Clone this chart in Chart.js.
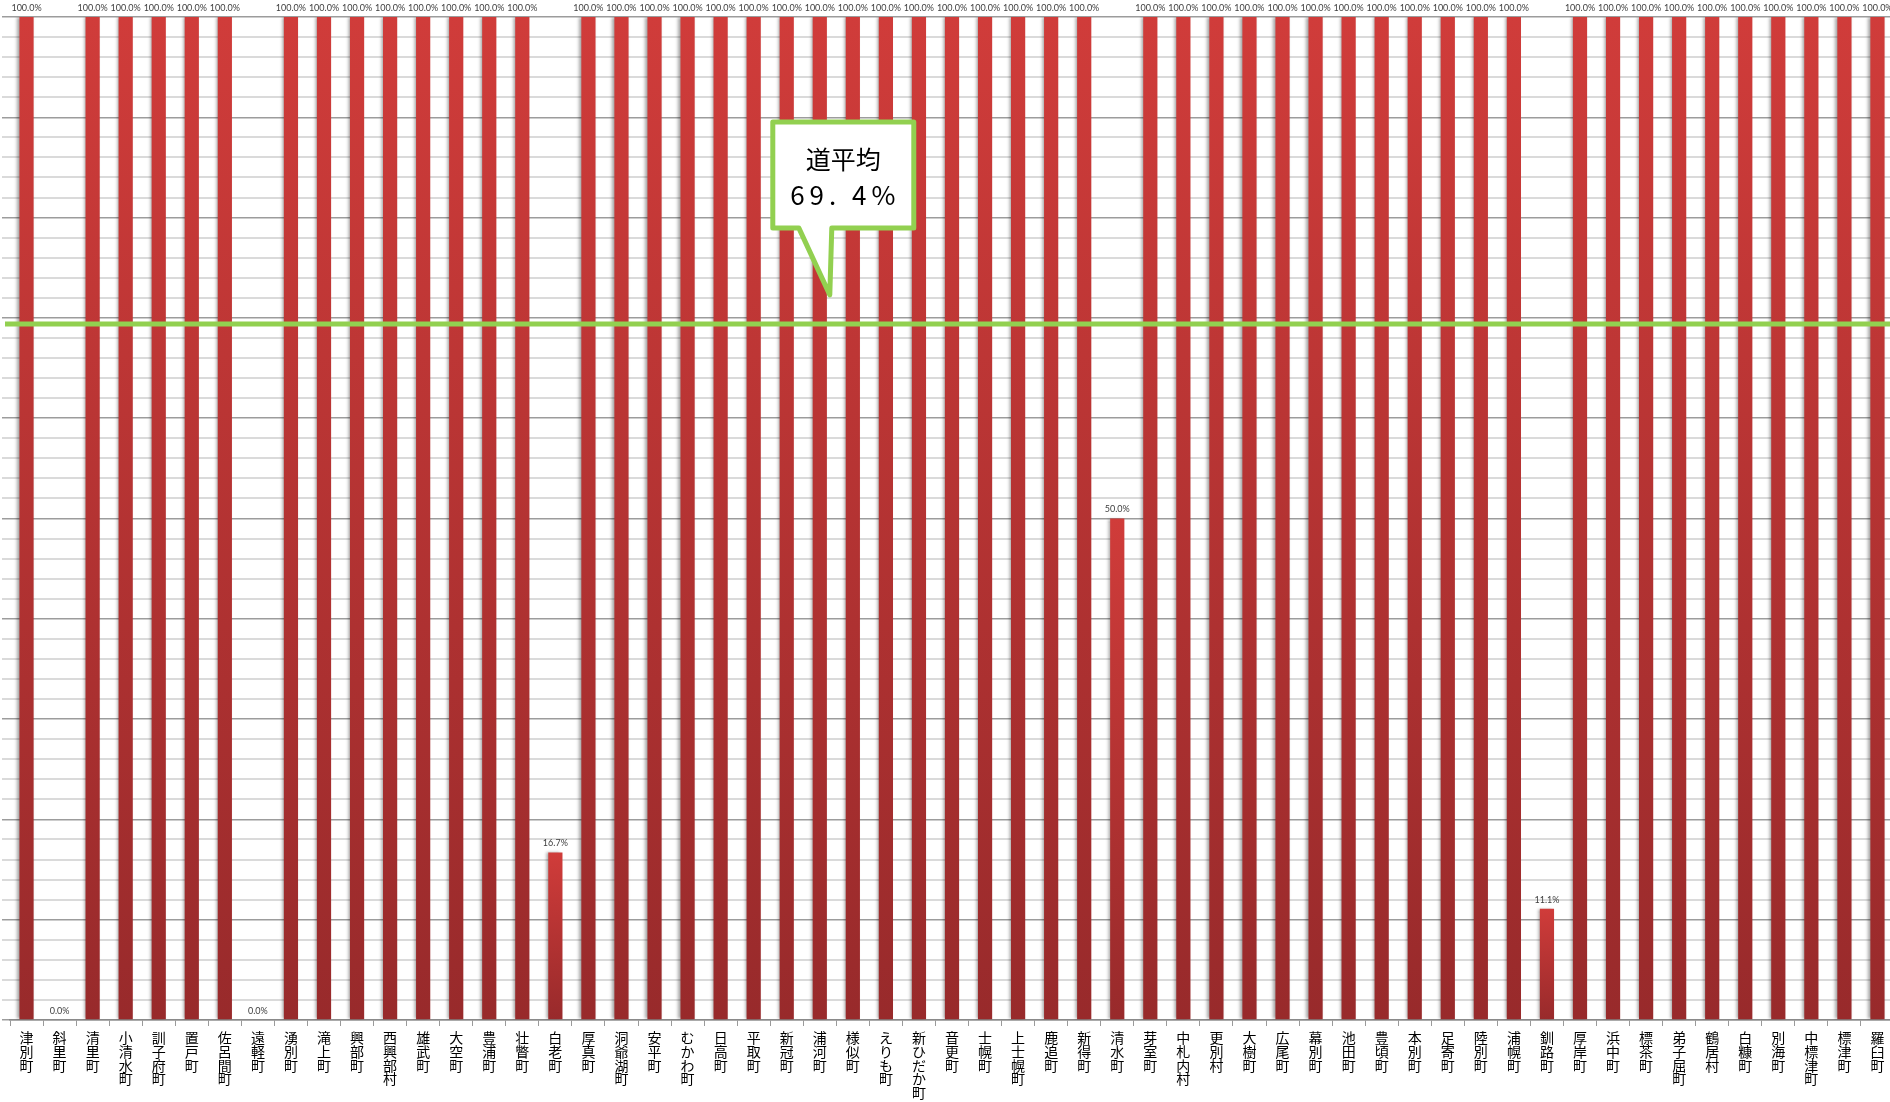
<!DOCTYPE html>
<html>
<head>
<meta charset="utf-8">
<script src="https://cdn.jsdelivr.net/npm/chart.js@4.4.1/dist/chart.umd.min.js"></script>
<style>
  html, body { margin: 0; padding: 0; background: #fff; overflow: hidden; }
  #myChart { display: block; }
</style>
</head>
<body>
<canvas id="myChart" width="1894" height="1102"></canvas>
<script>
// towns along the x axis
const towns = [
    '津別町', '斜里町', '清里町', '小清水町', '訓子府町', '置戸町', '佐呂間町', '遠軽町',
    '湧別町', '滝上町', '興部町', '西興部村', '雄武町', '大空町', '豊浦町', '壮瞥町',
    '白老町', '厚真町', '洞爺湖町', '安平町', 'むかわ町', '日高町', '平取町', '新冠町',
    '浦河町', '様似町', 'えりも町', '新ひだか町', '音更町', '士幌町', '上士幌町', '鹿追町',
    '新得町', '清水町', '芽室町', '中札内村', '更別村', '大樹町', '広尾町', '幕別町',
    '池田町', '豊頃町', '本別町', '足寄町', '陸別町', '浦幌町', '釧路町', '厚岸町',
    '浜中町', '標茶町', '弟子屈町', '鶴居村', '白糠町', '別海町', '中標津町', '標津町',
    '羅臼町'
];

// percent per town
const rates = [
    100, 0, 100, 100, 100, 100, 100, 0,
    100, 100, 100, 100, 100, 100, 100, 100,
    16.7, 100, 100, 100, 100, 100, 100, 100,
    100, 100, 100, 100, 100, 100, 100, 100,
    100, 50, 100, 100, 100, 100, 100, 100,
    100, 100, 100, 100, 100, 100, 11.1, 100,
    100, 100, 100, 100, 100, 100, 100, 100,
    100
];

const prefAverage = 69.4;
const calloutLines = ['道平均', '69. 4%'];
const calloutTown = '浦河町';

const green = '#92d050';

// stack the characters vertically
const verticalLabels = towns.map(t => Array.from(t));

function barGradient(c) {
    const chart = c.chart;
    if (!chart.chartArea || c.raw === undefined) return '#b83232';
    const y = chart.scales.y;
    const top = y.getPixelForValue(c.raw);
    const bottom = y.getPixelForValue(0);
    if (bottom - top < 1) return '#992a2b';
    const g = chart.ctx.createLinearGradient(0, top, 0, bottom);
    g.addColorStop(0, '#d03c3a');
    g.addColorStop(1, '#982a2b');
    return g;
}

const overlay = {
    id: 'overlay',
    beforeDatasetsDraw(chart) {
        const ctx = chart.ctx;
        ctx.save();
        ctx.shadowColor = 'rgba(0,0,0,0.35)';
        ctx.shadowOffsetX = -2;
        ctx.shadowBlur = 3;
    },
    afterDatasetsDraw(chart) {
        const ctx = chart.ctx;
        ctx.restore();

        const x = chart.scales.x;
        const y = chart.scales.y;

        // value labels
        const meta = chart.getDatasetMeta(0);
        ctx.save();
        ctx.font = '9px Lato, "Open Sans", sans-serif';
        ctx.fillStyle = '#404040';
        ctx.textAlign = 'center';
        ctx.textBaseline = 'middle';
        meta.data.forEach((bar, i) => {
            ctx.fillText(rates[i].toFixed(1) + '%', bar.x, bar.y - 9);
        });
        ctx.restore();

        // average line
        const ay = y.getPixelForValue(prefAverage);
        ctx.save();
        ctx.strokeStyle = green;
        ctx.lineWidth = 5;
        ctx.beginPath();
        ctx.moveTo(5, ay);
        ctx.lineTo(chart.width, ay);
        ctx.stroke();

        // callout
        const tipX = x.getPixelForValue(towns.indexOf(calloutTown)) + 10;
        const tipY = ay - 29;
        const left = tipX - 57, right = tipX + 84;
        const top = tipY - 173, bottom = tipY - 67;
        ctx.beginPath();
        ctx.moveTo(left, top);
        ctx.lineTo(right, top);
        ctx.lineTo(right, bottom);
        ctx.lineTo(tipX + 2, bottom);
        ctx.lineTo(tipX, tipY);
        ctx.lineTo(tipX - 31, bottom);
        ctx.lineTo(left, bottom);
        ctx.closePath();
        ctx.fillStyle = '#fff';
        ctx.fill();
        ctx.lineWidth = 5;
        ctx.lineJoin = 'round';
        ctx.strokeStyle = green;
        ctx.stroke();
        ctx.fillStyle = '#000';
        ctx.textAlign = 'center';
        ctx.textBaseline = 'middle';
        const cx = (left + right) / 2;
        ctx.font = '25px "Noto Sans CJK JP", sans-serif';
        ctx.fillText(calloutLines[0], cx, top + 38);
        ctx.font = '26px "Noto Sans CJK JP", sans-serif';
        ctx.letterSpacing = '5px';
        ctx.fillText(calloutLines[1], cx + 2, top + 73);
        ctx.restore();
    }
};

const ctx = document.getElementById('myChart').getContext('2d');
const chart = new Chart(ctx, {
    type: 'bar',
    data: {
        labels: verticalLabels,
        datasets: [{
            data: rates,
            backgroundColor: barGradient,
            barPercentage: 0.43,
            categoryPercentage: 1
        }]
    },
    options: {
        responsive: false,
        animation: false,
        layout: { padding: { top: 17, left: 2, right: 0, bottom: 0 } },
        plugins: {
            legend: { display: false },
            tooltip: { enabled: false }
        },
        scales: {
            x: {
                grid: {
                    drawOnChartArea: false,
                    drawTicks: true,
                    tickLength: 6,
                    color: '#9a9a9a'
                },
                border: { color: '#8a8a8a', width: 1.5 },
                ticks: {
                    color: '#000',
                    maxRotation: 0,
                    autoSkip: false,
                    padding: 5,
                    font: { family: '"Noto Sans CJK JP", sans-serif', size: 14, lineHeight: 0.98 }
                },
                afterFit(scale) { scale.height = 82; }
            },
            y: {
                min: 0,
                max: 100,
                ticks: { display: false, stepSize: 2 },
                border: { display: false },
                grid: {
                    drawTicks: true,
                    tickLength: 8,
                    lineWidth: c => (c.tick && c.tick.value % 10 === 0) ? 1.5 : 2,
                    color: c => (c.tick && c.tick.value % 10 === 0) ? '#9c9c9c' : '#dadada'
                }
            }
        }
    },
    plugins: [overlay]
});
</script>
</body>
</html>
